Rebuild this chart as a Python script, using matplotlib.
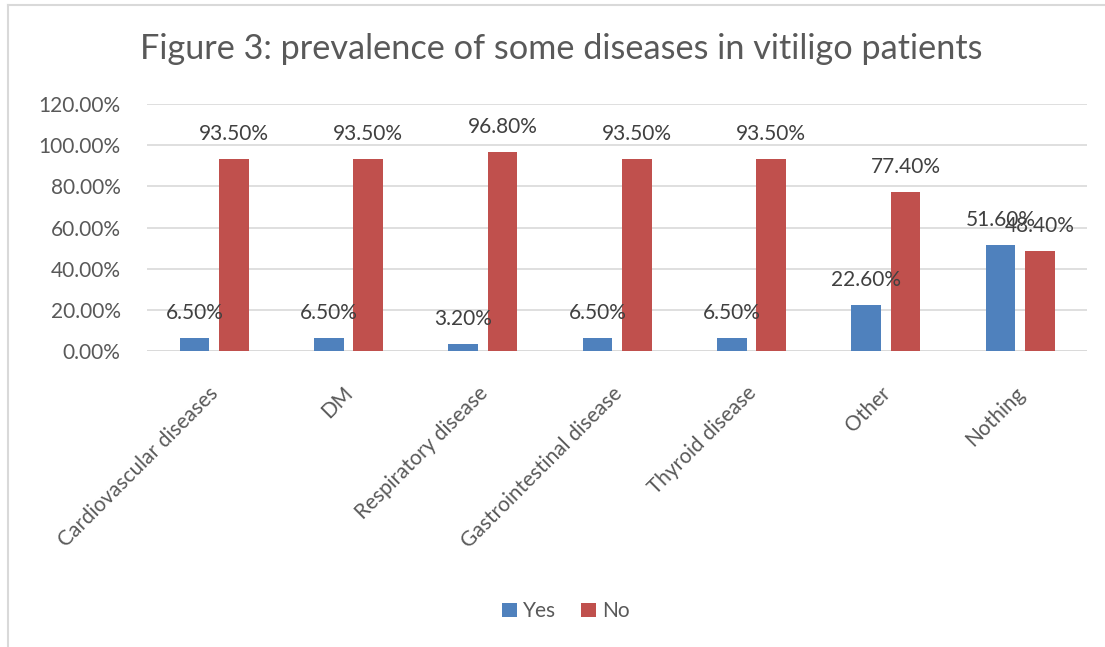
import numpy as np
import matplotlib.pyplot as plt
import matplotlib.transforms as mtransforms
from matplotlib.lines import Line2D
from matplotlib.ticker import FuncFormatter

# data
categories = ['Cardiovascular diseases', 'DM', 'Respiratory disease',
              'Gastrointestinal disease', 'Thyroid disease', 'Other', 'Nothing']
yes_vals = [6.5, 6.5, 3.2, 6.5, 6.5, 22.6, 51.6]
no_vals = [93.5, 93.5, 96.8, 93.5, 93.5, 77.4, 48.4]
series_names = ['Yes', 'No']

plt.rcParams['font.family'] = ['Lato', 'DejaVu Sans']
txt = '#595959'
blue = '#4f81bd'
red = '#c0504d'

fig = plt.figure(figsize=(11.05, 6.47), dpi=100)
ax = fig.add_axes([0.133, 0.4575, 0.851, 0.3815])

x = np.arange(len(categories))
w = 0.22
off = 0.146
b1 = ax.bar(x - off, yes_vals, w, color=blue, label=series_names[0])
b2 = ax.bar(x + off, no_vals, w, color=red, label=series_names[1])

for bars, vals in [(b1, yes_vals), (b2, no_vals)]:
    for b, v in zip(bars, vals):
        ax.annotate(f'{v:.2f}%', (b.get_x() + b.get_width() / 2, v),
                    xytext=(0, 18), textcoords='offset points',
                    ha='center', va='center', fontsize=15, color='#404040')

ax.set_xlim(-0.5, len(categories) - 0.5)
ax.set_ylim(0, 120)
ax.set_yticks(np.arange(0, 121, 20))
ax.yaxis.set_major_formatter(FuncFormatter(lambda v, p: f'{v:.2f}%'))
ax.yaxis.grid(True, color='#d9d9d9', linewidth=1.2)
ax.set_axisbelow(True)
for s in ax.spines.values():
    s.set_visible(False)
ax.axhline(0, color='#d9d9d9', linewidth=1.2, zorder=0)
ax.tick_params(length=0, labelsize=15, colors=txt)
ax.tick_params(axis='y', pad=19)
ax.set_xticks(x)
ax.set_xticklabels(categories, rotation=45, ha='right', rotation_mode='anchor')
ax.tick_params(axis='x', pad=23)
shift = mtransforms.ScaledTranslation(-4 / 72, 0, fig.dpi_scale_trans)
for lab in ax.get_xticklabels():
    lab.set_transform(lab.get_transform() + shift)

fig.text(0.508, 0.925, 'Figure 3: prevalence of some diseases in vitiligo patients',
         ha='center', va='center', fontsize=24.7, color=txt)

fig.legend(handles=[b1, b2], loc='center', bbox_to_anchor=(0.512, 0.055), ncol=2,
           frameon=False, fontsize=15, labelcolor=txt, handlelength=0.7,
           handleheight=0.7, handletextpad=0.3, columnspacing=1.2)

# outer chart border (left and top visible)
fig.add_artist(Line2D([0.0075, 0.0075], [0, 0.992], color='#d9d9d9', linewidth=1.5,
                      transform=fig.transFigure))
fig.add_artist(Line2D([0.0075, 1.0], [0.992, 0.992], color='#d9d9d9', linewidth=1.5,
                      transform=fig.transFigure))

fig.savefig('out.png', dpi=100)
